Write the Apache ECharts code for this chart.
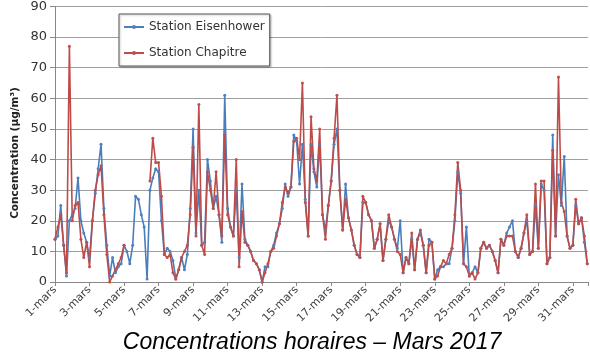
<!DOCTYPE html>
<html><head><meta charset="utf-8">
<script src="https://cdn.jsdelivr.net/npm/echarts/dist/echarts.min.js"></script>
<style>html,body{margin:0;padding:0;background:#fff}#c{width:590px;height:361px}</style>
</head><body><div id="c"></div>
<script>
// x = days since 1 March 00:00, values every 4 hours
const stepsPerDay = 6;
const tickLabels = ['1-mars','3-mars','5-mars','7-mars','9-mars','11-mars','13-mars','15-mars','17-mars','19-mars','21-mars','23-mars','25-mars','27-mars','29-mars','31-mars'];
const seriesNames = ['Station Eisenhower', 'Station Chapitre'];

const eisenhower = [
  14,15,25,12,2,20,
  22,24,34,20,16,13,
  8,20,29,37,45,24,
  12,2,8,3,5,6,
  12,10,6,12,28,27,
  22,18,1,30,34,37,
  36,20,9,11,10,7,
  1,4,8,4,9,24,
  50,16,30,12,13,40,
  33,24,28,22,13,61,
  24,18,15,30,8,32,
  14,12,10,7,6,4,
  0,5,5,10,12,16,
  19,24,32,28,31,48,
  46,32,45,27,15,45,
  36,31,45,22,17,25,
  33,45,50,30,17,32,
  21,17,12,9,8,26,
  26,22,20,11,14,19,
  7,14,20,18,14,11,
  20,3,8,6,14,4,
  14,16,12,3,14,13,
  1,4,5,5,6,6,
  11,20,36,29,6,18,
  2,3,5,3,11,13,
  11,12,10,7,3,14,
  12,16,18,20,10,8,
  11,16,20,9,10,25,
  11,32,30,6,8,48,
  15,35,25,41,15,11,
  12,25,19,21,13,6
];

const chapitre = [
  14,18,22,12,3,77,
  20,25,26,14,8,13,
  5,20,30,35,38,22,
  9,0,2,4,6,8,
  12,null,null,null,null,null,
  null,null,null,33,47,39,
  39,28,9,8,9,3,
  1,4,8,10,12,22,
  44,15,58,12,9,36,
  30,24,36,22,15,48,
  22,18,15,40,5,23,
  13,12,10,7,6,4,
  0,3,6,10,11,15,
  19,26,31,29,31,46,
  47,40,65,26,15,54,
  37,33,50,22,14,25,
  33,47,61,30,17,27,
  21,17,12,9,8,28,
  26,22,20,11,14,19,
  7,14,22,18,14,10,
  9,3,8,6,16,4,
  14,17,12,3,12,13,
  1,2,5,7,6,9,
  11,22,39,30,6,5,
  2,3,1,3,11,13,
  11,12,10,7,3,14,
  12,15,15,15,10,8,
  11,16,22,9,10,32,
  11,33,33,6,8,43,
  15,67,26,23,15,11,
  12,27,19,21,15,6
];

const toPairs = arr => arr.map((v, i) => [i / stepsPerDay, v]);

const chart = echarts.init(document.getElementById('c'), null, {renderer: 'canvas'});
const font = 'DejaVu Sans';
chart.setOption({
  animation: false,
  backgroundColor: '#ffffff',
  legend: {
    data: seriesNames,
    orient: 'vertical',
    left: 119, top: 14,
    itemWidth: 20, itemHeight: 5, itemGap: 14,
    padding: [7, 5, 7, 4],
    backgroundColor: '#fff',
    borderColor: '#555', borderWidth: 1,
    shadowColor: 'rgba(0,0,0,0.25)', shadowBlur: 2, shadowOffsetX: 1, shadowOffsetY: 1,
    textStyle: {fontFamily: font, fontSize: 12, color: '#333'}
  },
  graphic: [{
    type: 'text', x: 15, y: 153, rotation: Math.PI / 2,
    style: {text: 'Concentration (µg/m³)', fontFamily: font, fontWeight: 'bold', fontSize: 10.5, fill: '#222', align: 'center', verticalAlign: 'middle'}
  }, {
    type: 'text', x: 312, y: 343,
    style: {text: 'Concentrations horaires – Mars 2017', fontFamily: 'Liberation Sans', fontStyle: 'italic', fontSize: 23, fill: '#000', align: 'center', verticalAlign: 'middle'}
  }],
  grid: {left: 55, right: 0, top: 5, bottom: 79},
  xAxis: {
    type: 'value', min: 0, max: 30.87, interval: 2,
    axisLine: {lineStyle: {color: '#888'}},
    axisTick: {length: 4, lineStyle: {color: '#888'}},
    splitLine: {show: false},
    axisLabel: {
      rotate: 45, fontSize: 11, color: '#404040', fontFamily: font, margin: 6,
      formatter: v => {
        const r = Math.round(v);
        return (Math.abs(v - r) < 1e-6 && r % 2 === 0) ? tickLabels[r / 2] : '';
      }
    }
  },
  yAxis: {
    type: 'value', min: 0, max: 90, interval: 10,
    axisLine: {show: true, lineStyle: {color: '#888'}},
    axisTick: {show: true, length: 5, lineStyle: {color: '#888'}},
    splitLine: {lineStyle: {color: '#a0a0a0'}},
    axisLabel: {fontSize: 13, color: '#333', fontFamily: font, margin: 8}
  },
  series: [
    {name: seriesNames[0], type: 'line', data: toPairs(eisenhower), symbol: 'circle', symbolSize: 3, showAllSymbol: true,
     color: '#4a7ebb', lineStyle: {width: 1.6, color: '#4a7ebb'}, itemStyle: {color: '#4f81bd'}},
    {name: seriesNames[1], type: 'line', data: toPairs(chapitre), symbol: 'circle', symbolSize: 3, showAllSymbol: true,
     color: '#be4b48', lineStyle: {width: 1.6, color: '#be4b48'}, itemStyle: {color: '#c0504d'}}
  ]
});
</script>
</body></html>
